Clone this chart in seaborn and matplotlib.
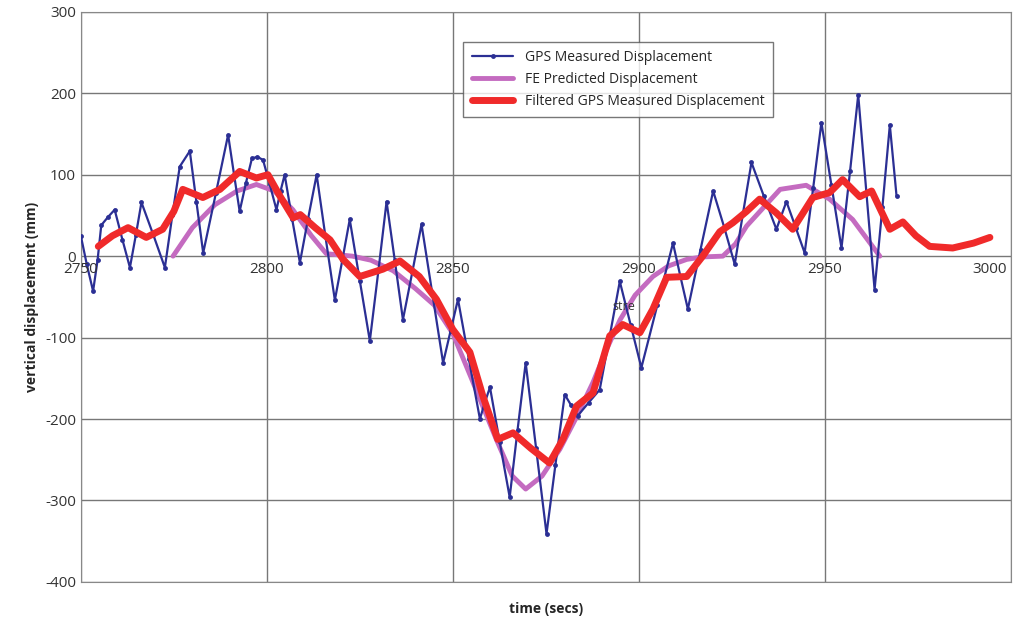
import matplotlib
matplotlib.use('Agg')
import matplotlib.pyplot as plt
import seaborn as sns
import pandas as pd

# GPS measured displacement (at extrema and mid points)
gps_t = [2750, 2751.6, 2753.3, 2754.5, 2755.5, 2757.3, 2759.1, 2761.2, 2763.2, 2764.8, 2766.3,
         2769.5, 2772.6, 2774.6, 2776.6, 2779.3, 2781.1, 2782.9, 2786.3, 2789.6, 2791.2, 2792.7,
         2794.4, 2796, 2797.5, 2799, 2800.8, 2802.6, 2803.7, 2804.8, 2806.8, 2808.9, 2811.1,
         2813.4, 2815.8, 2818.3, 2820.3, 2822.3, 2825, 2827.7, 2830, 2832.2, 2834.4, 2836.6,
         2839.1, 2841.6, 2844.5, 2847.4, 2849.4, 2851.4, 2854.3, 2857.3, 2858.6, 2860, 2862.6,
         2865.3, 2867.4, 2869.6, 2872.4, 2875.2, 2877.6, 2880.1, 2881.8, 2883.6, 2886.5, 2889.5,
         2892.2, 2894.9, 2897.8, 2900.7, 2905, 2909.2, 2911.2, 2913.2, 2916.6, 2920, 2923,
         2925.8, 2928, 2930.3, 2933.6, 2937, 2939.7, 2942.2, 2944.6, 2946.9, 2949.1, 2951.8,
         2954.5, 2956.8, 2959, 2961.2, 2963.4, 2965.5, 2967.5, 2969.3]
gps_v = [25, -10, -43, -5, 38, 48, 57, 20, -14, 26, 66,
         26, -14, 50, 110, 129, 66, 4, 77, 149, 100, 55,
         90, 120, 122, 118, 88, 57, 80, 100, 46, -8, 46,
         100, 23, -54, -5, 45, -30, -104, -18, 67, -5, -78,
         -20, 39, -46, -131, -92, -53, -126, -200, -180, -161, -228,
         -296, -214, -131, -236, -341, -256, -170, -183, -196, -180, -164,
         -98, -31, -84, -137, -60, 16, -25, -65, 8, 80, 35,
         -10, 52, 115, 74, 33, 67, 35, 4, 84, 164, 87,
         10, 104, 198, 78, -41, 60, 161, 74]

# FE predicted displacement
fe_t = [2774.8, 2780, 2786, 2792, 2797.2, 2802, 2807, 2812, 2816, 2823, 2828, 2834, 2840, 2845,
        2850, 2855, 2861.7, 2866, 2869.6, 2874, 2878.8, 2883, 2887.7, 2891, 2895, 2899, 2903.8,
        2908, 2912.9, 2917, 2922.6, 2926, 2929, 2934, 2938, 2945, 2951.3, 2957.5, 2964.8]
fe_v = [0, 35, 63, 80, 88, 80, 57, 25, 3, 0, -5, -18, -40, -60,
        -95, -150, -225, -270, -286, -270, -237, -200, -155, -118, -78, -48, -25,
        -12, -4, -1, 0, 15, 37, 62, 82, 87, 70, 45, 0]

# Filtered GPS measured displacement
flt_t = [2754.7, 2758.5, 2762.7, 2767.6, 2772, 2775, 2777.4, 2782.8, 2787.4, 2792.7, 2797.2, 2800.3,
         2803.5, 2807.1, 2809, 2813, 2817, 2820.5, 2825, 2831.2, 2835.8, 2841, 2845.6, 2850,
         2854.6, 2858.1, 2862.1, 2866.2, 2871, 2876, 2879.6, 2883.3, 2887.7, 2892.2, 2895.7,
         2900.3, 2903.8, 2907.5, 2912.9, 2917.2, 2921.8, 2925.3, 2929, 2932.5, 2937, 2941.4,
         2946.8, 2951.3, 2954.8, 2959.4, 2962.6, 2967.5, 2971, 2974.5, 2978.2, 2984.4, 2990, 2994.4]
flt_v = [12, 25, 35, 23, 33, 55, 82, 72, 82, 104, 96, 100,
         74, 47, 51, 35, 20, -4, -25, -16, -6, -25, -53, -90,
         -118, -172, -225, -217, -236, -254, -225, -184, -168, -98, -84,
         -94, -65, -26, -25, 0, 30, 41, 55, 70, 53, 33,
         72, 78, 94, 73, 80, 33, 42, 25, 12, 10, 16, 23]

x_ticks = [2750, 2800, 2850, 2900, 2950, 3000]
y_ticks = [-400, -300, -200, -100, 0, 100, 200, 300]

sns.set_style('white')
plt.rcParams['font.family'] = ['Open Sans', 'DejaVu Sans']
plt.rcParams['axes.unicode_minus'] = False

gps = pd.DataFrame({'t': gps_t, 'v': gps_v})
fe = pd.DataFrame({'t': fe_t, 'v': fe_v})
flt = pd.DataFrame({'t': flt_t, 'v': flt_v})

fig = plt.figure(figsize=(10.23, 6.23), dpi=100)
ax = fig.add_axes([0.079, 0.066, 0.909, 0.915])

sns.lineplot(data=gps, x='t', y='v', ax=ax, color='#2b2f94', lw=1.6, marker='o', markersize=3.5,
             markeredgewidth=0, label='GPS Measured Displacement', zorder=3)
sns.lineplot(data=fe, x='t', y='v', ax=ax, color='#c46bc0', lw=3.5,
             label='FE Predicted Displacement', zorder=2)
sns.lineplot(data=flt, x='t', y='v', ax=ax, color='#f02a2a', lw=5,
             label='Filtered GPS Measured Displacement', zorder=4)

ax.set_xlim(2750, 3000)
ax.set_ylim(-400, 300)
ax.set_xticks(x_ticks)
ax.set_yticks(y_ticks)
ax.set_xticklabels([])
ax.tick_params(axis='x', length=0)
ax.tick_params(axis='y', labelsize=11, length=0, colors='#333333')
ax.grid(True, color='#777777', lw=1)
for s in ax.spines.values():
    s.set_color('#888888')
for xt in x_ticks:
    ax.text(xt - 1 if xt == 3000 else xt, -7, str(xt), ha='right' if xt == 3000 else 'center',
            va='top', fontsize=11, color='#333333')
ax.text(2896, -62, 'stre', ha='center', va='center', fontsize=9, color='#333333')

ax.set_xlabel('time (secs)', fontsize=10, fontweight='bold')
ax.set_ylabel('vertical displacement (mm)', fontsize=10, fontweight='bold')
ax.xaxis.set_label_coords(0.5, -0.035)

leg = ax.legend(loc='upper left', bbox_to_anchor=(0.404, 0.96), fontsize=10, frameon=True,
                fancybox=False, edgecolor='#555555', handlelength=3, borderpad=0.6)
leg.get_frame().set_linewidth(1)

fig.savefig('out.png', dpi=100, facecolor='white')
